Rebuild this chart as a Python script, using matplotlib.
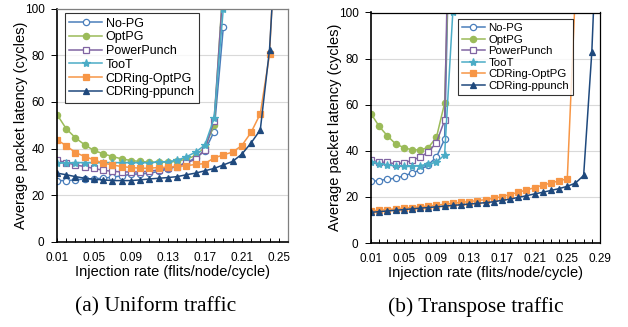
import matplotlib.pyplot as plt

plt.rcParams['font.family'] = ['Liberation Sans', 'DejaVu Sans']

# ------------------------------------------------------------
# Data
# ------------------------------------------------------------
rates_a = [0.01, 0.02, 0.03, 0.04, 0.05, 0.06, 0.07, 0.08, 0.09, 0.10,
           0.11, 0.12, 0.13, 0.14, 0.15, 0.16, 0.17, 0.18, 0.19, 0.20,
           0.21, 0.22, 0.23, 0.24, 0.25, 0.26]
rates_b = rates_a + [0.27, 0.28, 0.29]

# (a) uniform traffic
nopg_a = [26.3, 26.3, 26.6, 27.0, 27.1, 27.3, 27.8, 28.3, 29.0, 29.2,
          29.5, 30.2, 31.2, 32.5, 34.0, 36.0, 39.0, 47.3, 92.0]
optpg_a = [54.6, 48.5, 44.6, 41.6, 39.2, 37.8, 36.6, 35.6, 34.9, 34.5,
           34.2, 34.2, 34.2, 34.6, 35.5, 37.0, 40.5, 50.0, 112.0]
ppunch_a = [35.0, 34.0, 33.0, 32.3, 31.5, 30.7, 30.3, 30.0, 30.0, 30.0,
            30.3, 30.9, 31.6, 32.3, 33.8, 35.5, 39.5, 52.0, 110.0]
toot_a = [33.8, 33.8, 34.0, 34.0, 34.0, 34.0, 34.0, 34.0, 34.0, 34.0,
          34.0, 34.2, 34.4, 35.0, 36.5, 38.5, 41.5, 53.0, 100.0]
cdr_optpg_a = [43.8, 41.2, 38.3, 36.6, 35.2, 33.8, 33.0, 32.3, 31.9, 31.6,
               31.6, 31.9, 32.0, 32.3, 32.7, 33.2, 33.6, 36.0, 37.3, 38.5,
               41.3, 46.9, 54.9, 80.3, 160.0]
cdr_ppunch_a = [29.5, 28.8, 28.0, 27.3, 26.9, 26.6, 26.3, 26.3, 26.3, 26.6,
                27.0, 27.3, 27.6, 28.0, 28.8, 29.5, 30.5, 31.5, 33.0, 34.5,
                37.6, 42.4, 48.0, 82.4, 150.0]

# (b) transpose traffic
nopg_b = [26.7, 27.1, 27.7, 28.1, 29.1, 30.3, 31.7, 33.9, 37.3, 45.0, 200.0]
optpg_b = [56.1, 50.6, 46.5, 43.0, 41.4, 40.4, 40.4, 41.4, 45.8, 60.7, 180.0]
ppunch_b = [35.8, 35.1, 35.0, 34.3, 34.8, 35.8, 37.3, 39.4, 43.6, 53.2, 230.0]
toot_b = [35.2, 34.4, 33.9, 33.4, 33.2, 33.2, 33.6, 34.2, 35.0, 38.3, 100.0]
cdr_optpg_b = [13.9, 14.2, 14.5, 14.8, 15.1, 15.4, 15.7, 16.0, 16.4, 16.8,
               17.2, 17.6, 18.0, 18.4, 18.8, 19.4, 20.1, 21.0, 22.0, 23.0,
               24.0, 25.1, 26.0, 27.0, 27.8, 110.0]
cdr_ppunch_b = [13.3, 13.6, 13.9, 14.2, 14.5, 14.8, 15.1, 15.4, 15.7, 16.0,
                16.3, 16.6, 16.9, 17.2, 17.5, 17.9, 18.5, 19.0, 19.8, 20.5,
                21.3, 22.0, 22.8, 23.6, 24.6, 26.0, 29.3, 82.9, 170.0]

names = ['No-PG', 'OptPG', 'PowerPunch', 'TooT', 'CDRing-OptPG', 'CDRing-ppunch']
colors = ['#4A7EBB', '#9BBB59', '#8064A2', '#4BACC6', '#F79646', '#1F497D']
markers = ['o', 'o', 's', '*', 's', '^']
filled = [False, True, False, True, True, True]

ticks_a = [0.01, 0.05, 0.09, 0.13, 0.17, 0.21, 0.25]
ticks_b = [0.01, 0.05, 0.09, 0.13, 0.17, 0.21, 0.25, 0.29]


def draw(ax, rates, series, ticks, xmax, legend_loc, leg_font, handle_len, frame_col):
    for ys, name, c, m, f in zip(series, names, colors, markers, filled):
        ms = 6 if m == '*' else 4.5
        ax.plot(rates[:len(ys)], ys, '-', color=c, lw=1.1, marker=m, ms=ms,
                mfc=c if f else 'white', mec=c, mew=0.9, label=name)
    ax.set_xlim(0.01, xmax)
    ax.set_ylim(0, 100)
    ax.set_yticks([0, 20, 40, 60, 80, 100])
    ax.set_xticks(ticks)
    ax.set_xticklabels([f'{t:.2f}' for t in ticks])
    ax.set_xticks(rates, minor=True)
    ax.tick_params(axis='x', which='both', direction='in', length=3, width=0.7,
                   labelsize=8.5, pad=7)
    ax.tick_params(axis='y', direction='out', length=4, width=0.7, labelsize=8.5, pad=5)
    ax.grid(axis='y', color='#d9d9d9', lw=0.8)
    ax.set_axisbelow(True)
    for s in ['left', 'bottom']:
        ax.spines[s].set_color('black')
        ax.spines[s].set_linewidth(1.2)
    for s in ['top', 'right']:
        ax.spines[s].set_color(frame_col)
        ax.spines[s].set_linewidth(0.9)
    ax.set_xlabel('Injection rate (flits/node/cycle)', fontsize=10.5)
    ax.set_ylabel('Average packet latency (cycles)', fontsize=10.5)
    ax.xaxis.set_label_coords(0.5, -0.10)
    ax.yaxis.set_label_coords(-0.125, 0.5)
    leg = ax.legend(loc='upper left', bbox_to_anchor=legend_loc, fontsize=leg_font,
                    frameon=True, fancybox=False, handlelength=handle_len,
                    handletextpad=0.3, labelspacing=0.14, borderpad=0.35,
                    borderaxespad=0)
    leg.get_frame().set_edgecolor('black')
    leg.get_frame().set_linewidth(0.8)


fig = plt.figure(figsize=(6.28, 3.27), dpi=100)
ax1 = fig.add_axes([57 / 628, 1 - 242 / 327, 231 / 628, 233.5 / 327])
ax2 = fig.add_axes([371 / 628, 1 - 243 / 327, 229 / 628, 230.5 / 327])

draw(ax1, rates_a, [nopg_a, optpg_a, ppunch_a, toot_a, cdr_optpg_a, cdr_ppunch_a],
     ticks_a, 0.26, (0.035, 0.98), 9, 2.6, '#7f7f7f')
draw(ax2, rates_b, [nopg_b, optpg_b, ppunch_b, toot_b, cdr_optpg_b, cdr_ppunch_b],
     ticks_b, 0.29, (0.38, 0.972), 8.2, 2.0, 'black')

fig.text(156 / 628, 1 - 307 / 327, '(a) Uniform traffic', ha='center', va='center',
         fontsize=15.5, family='Liberation Serif')
fig.text(476 / 628, 1 - 307 / 327, '(b) Transpose traffic', ha='center', va='center',
         fontsize=15.5, family='Liberation Serif')

fig.savefig('out.png', dpi=100)
